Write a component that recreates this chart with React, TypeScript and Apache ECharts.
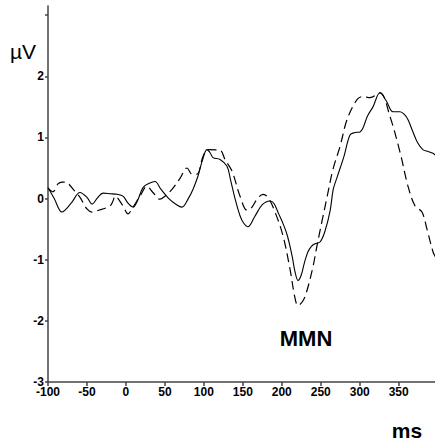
import React, { useEffect, useRef } from "react";
import * as echarts from "echarts";

const xTickValues = [-100, -50, 0, 50, 100, 150, 200, 250, 300, 350];
const yTickValues = [-3, -2, -1, 0, 1, 2, 3];
const yLabelValues = [-3, -2, -1, 0, 1, 2];

const solidTimes = [-100, -92, -82, -70, -59, -50, -43.5, -36, -29.4, -20, -11.5, -3.8, 3, 9.1, 15, 21.9, 30, 37.3, 45, 55, 65, 71.9, 80, 86, 92.5, 98, 104, 108, 111.7, 120.7, 129.7, 134, 140, 146.4, 151, 156.6, 165, 175, 184.9, 190, 196, 201.6, 207, 213.1, 217, 220.8, 225, 229, 233.6, 238, 242.6, 249, 255, 262, 266, 271, 280, 287.5, 293.9, 300.4, 304, 310, 317, 326, 334, 342.7, 351.7, 357, 362, 368, 374, 381, 388, 394, 397];
const solidValues = [0.18, 0.0, -0.22, -0.07, 0.1, 0.02, -0.09, 0.02, 0.09, 0.08, 0.07, 0.04, -0.08, -0.14, -0.03, 0.18, 0.25, 0.28, 0.15, 0.0, -0.1, -0.14, 0.0, 0.15, 0.37, 0.62, 0.8, 0.75, 0.67, 0.64, 0.53, 0.32, 0.0, -0.28, -0.4, -0.46, -0.3, -0.1, -0.04, -0.08, -0.25, -0.41, -0.6, -0.93, -1.2, -1.34, -1.25, -1.05, -0.87, -0.78, -0.74, -0.71, -0.55, -0.2, 0.15, 0.35, 0.7, 1.04, 1.08, 1.09, 1.15, 1.35, 1.5, 1.73, 1.6, 1.42, 1.42, 1.38, 1.29, 1.1, 0.92, 0.8, 0.77, 0.74, 0.71];

const dashedTimes = [-100, -93.6, -87.2, -82, -78.2, -65.4, -58.9, -50, -43.5, -37.1, -20.4, -16.6, -14, -3.8, 2.7, 9.1, 18.1, 27, 34.7, 43.7, 50.1, 59.1, 69.4, 78.4, 84.8, 91.2, 98.9, 105.3, 120.7, 127.1, 136.1, 146.4, 155.4, 161.8, 168.2, 175.9, 182.3, 191.3, 201.6, 210.5, 217, 220.8, 227.2, 232.4, 240.1, 245.2, 251.6, 258, 265.7, 274.7, 283.7, 296.5, 304.2, 313.2, 326, 338.9, 351.7, 362, 371, 379.9, 386.3, 394, 397];
const dashedValues = [0.17, 0.11, 0.24, 0.27, 0.27, 0.12, 0.02, -0.17, -0.22, -0.2, -0.12, -0.04, 0.04, -0.12, -0.25, -0.14, 0.04, 0.2, 0.1, -0.01, 0.04, 0.15, 0.33, 0.5, 0.4, 0.4, 0.69, 0.8, 0.79, 0.64, 0.45, 0.04, -0.19, -0.14, -0.01, 0.07, 0.02, -0.22, -0.61, -1.15, -1.63, -1.75, -1.67, -1.5, -1.11, -0.77, -0.37, 0.02, 0.48, 0.85, 1.29, 1.62, 1.67, 1.65, 1.73, 1.34, 0.76, 0.2, -0.12, -0.22, -0.5, -0.87, -0.95];

const FONT = "Liberation Sans, Arial, Helvetica, sans-serif";

export default function App() {
  const ref = useRef<HTMLDivElement>(null);
  useEffect(() => {
    if (!ref.current) return;
    const chart = echarts.init(ref.current, null, { renderer: "svg" });
    const axisLineStyle = { color: "#444", width: 1.5 };
    chart.setOption({
      animation: false,
      backgroundColor: "#fff",
      grid: { left: 48, top: 6, width: 387, height: 376, containLabel: false },
      xAxis: {
        type: "value",
        min: -100,
        max: 396.6,
        interval: 50,
        axisLine: { show: true, lineStyle: axisLineStyle, onZero: false },
        axisTick: { show: true, length: 4, lineStyle: axisLineStyle, customValues: xTickValues },
        axisLabel: {
          customValues: xTickValues,
          color: "#000",
          fontWeight: "bold",
          fontSize: 12,
          fontFamily: FONT,
          margin: 4,
        },
        splitLine: { show: false },
      },
      yAxis: {
        type: "value",
        min: -3,
        max: 3.15,
        interval: 1,
        axisLine: { show: true, lineStyle: axisLineStyle, onZero: false },
        axisTick: { show: true, length: 3, lineStyle: axisLineStyle, customValues: yTickValues },
        axisLabel: {
          customValues: yLabelValues,
          color: "#000",
          fontWeight: "bold",
          fontSize: 12,
          fontFamily: FONT,
          margin: 4,
        },
        splitLine: { show: false },
      },
      series: [
        {
          type: "line",
          data: solidTimes.map((t, i) => [t, solidValues[i]]),
          smooth: 0.35,
          symbol: "none",
          lineStyle: { color: "#000", width: 1.1 },
        },
        {
          type: "line",
          data: dashedTimes.map((t, i) => [t, dashedValues[i]]),
          smooth: 0.35,
          symbol: "none",
          lineStyle: { color: "#000", width: 1.2, type: [9, 5] },
        },
      ],
      graphic: [
        {
          type: "text",
          x: 23,
          y: 51,
          style: { text: "µV", font: `21px ${FONT}`, fill: "#000", align: "center", verticalAlign: "middle" },
        },
        {
          type: "text",
          x: 306,
          y: 338,
          style: { text: "MMN", font: `bold 22px ${FONT}`, fill: "#000", align: "center", verticalAlign: "middle" },
        },
        {
          type: "text",
          x: 407,
          y: 430,
          style: { text: "ms", font: `bold 21px ${FONT}`, fill: "#000", align: "center", verticalAlign: "middle" },
        },
      ],
    });
    return () => chart.dispose();
  }, []);
  return (
    <div
      ref={ref}
      style={{ position: "fixed", left: 0, top: 0, width: 435, height: 442, background: "#fff" }}
    />
  );
}
